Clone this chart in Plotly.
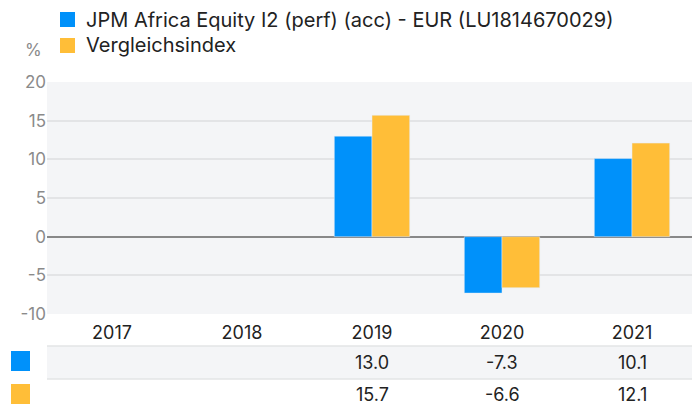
import plotly.graph_objects as go

years = ["2017", "2018", "2019", "2020", "2021"]
fund_name = "JPM Africa Equity I2 (perf) (acc) - EUR (LU1814670029)"
index_name = "Vergleichsindex"
fund_values = [None, None, 13.0, -7.3, 10.1]
index_values = [None, None, 15.7, -6.6, 12.1]
y_tick_values = [-10, -5, 0, 5, 10, 15, 20]
y_tick_labels = ["-10", "-5", "0", "5", "10", "15", "20"]

BLUE = "#0091FA"
YELLOW = "#FFBE38"
FONT = "Inter, Roboto, sans-serif"

L, T, B, W, H = 47, 82, 96, 692, 410
PH = H - T - B
CAT_PX = 130.0  # pixel width of one category band
n = len(years)
x_hi = -0.5 + (W - L) / CAT_PX


def py(y):
    return (H - B - y) / PH


def px(x):
    return (x - L) / (W - L)


fig = go.Figure()
fig.add_trace(go.Bar(x=years, y=fund_values, name=fund_name, marker_color=BLUE))
fig.add_trace(go.Bar(x=years, y=index_values, name=index_name, marker_color=YELLOW))

shapes = []
annotations = []
# table band and lines
shapes.append(dict(type="rect", xref="paper", yref="paper", x0=0, x1=1, y0=py(346), y1=py(379),
                   fillcolor="#F4F5F7", line_width=0, layer="above"))
for yy in (346, 379):
    shapes.append(dict(type="line", xref="paper", yref="paper", x0=0, x1=1, y0=py(yy), y1=py(yy),
                       line=dict(color="#E3E4E6", width=1.5)))
# row markers
for (y0, y1), col in (((351, 371), BLUE), ((384, 404), YELLOW)):
    shapes.append(dict(type="rect", xref="paper", yref="paper", x0=px(11), x1=px(30),
                       y0=py(y1), y1=py(y0), fillcolor=col, line_width=0))
# table values, placed under each category centre
for vals, yc in ((fund_values, 362), (index_values, 394)):
    for i, v in enumerate(vals):
        if v is None:
            continue
        annotations.append(dict(x=(i + 0.5) / (x_hi + 0.5), xref="paper", y=py(yc), yref="paper",
                                text=f"{v:.1f}", xanchor="center", yanchor="middle", showarrow=False,
                                font=dict(size=18, color="#222222", family=FONT)))
# manual legend
for (y0, y1), col, name in (((12, 27), BLUE, fund_name), ((38, 53), YELLOW, index_name)):
    shapes.append(dict(type="rect", xref="paper", yref="paper", x0=px(60), x1=px(75),
                       y0=py(y1), y1=py(y0), fillcolor=col, line_width=0))
    annotations.append(dict(x=px(84), xref="paper", y=py((y0 + y1) / 2), yref="paper", text=name,
                            xanchor="left", yanchor="middle", showarrow=False,
                            font=dict(size=20, color="#222222", family=FONT)))
annotations.append(dict(x=px(33), xref="paper", y=py(50), yref="paper", text="%", showarrow=False,
                        xanchor="center", yanchor="middle",
                        font=dict(size=17, color="#8A8A8A", family=FONT)))

fig.update_layout(
    width=W, height=H,
    margin=dict(l=L, r=0, t=T, b=B),
    paper_bgcolor="white",
    plot_bgcolor="#F4F5F7",
    barmode="group",
    bargap=0.42,
    bargroupgap=0,
    font=dict(family=FONT),
    showlegend=False,
    xaxis=dict(type="category", categoryarray=years, range=[-0.5, x_hi], showgrid=False,
               showline=False, ticks="", tickfont=dict(size=18, color="#222222"),
               ticklabelstandoff=6, fixedrange=True),
    yaxis=dict(range=[-10, 20], tickmode="array", tickvals=y_tick_values, ticktext=y_tick_labels,
               showgrid=True, gridcolor="#E3E4E6", gridwidth=1.5,
               zeroline=True, zerolinecolor="#888888", zerolinewidth=2,
               tickfont=dict(size=17, color="#8A8A8A"), ticks="", fixedrange=True),
    shapes=shapes,
    annotations=annotations,
)

fig.write_html("out.html", config={"displayModeBar": False},
               post_script="document.body.style.margin='0';")
